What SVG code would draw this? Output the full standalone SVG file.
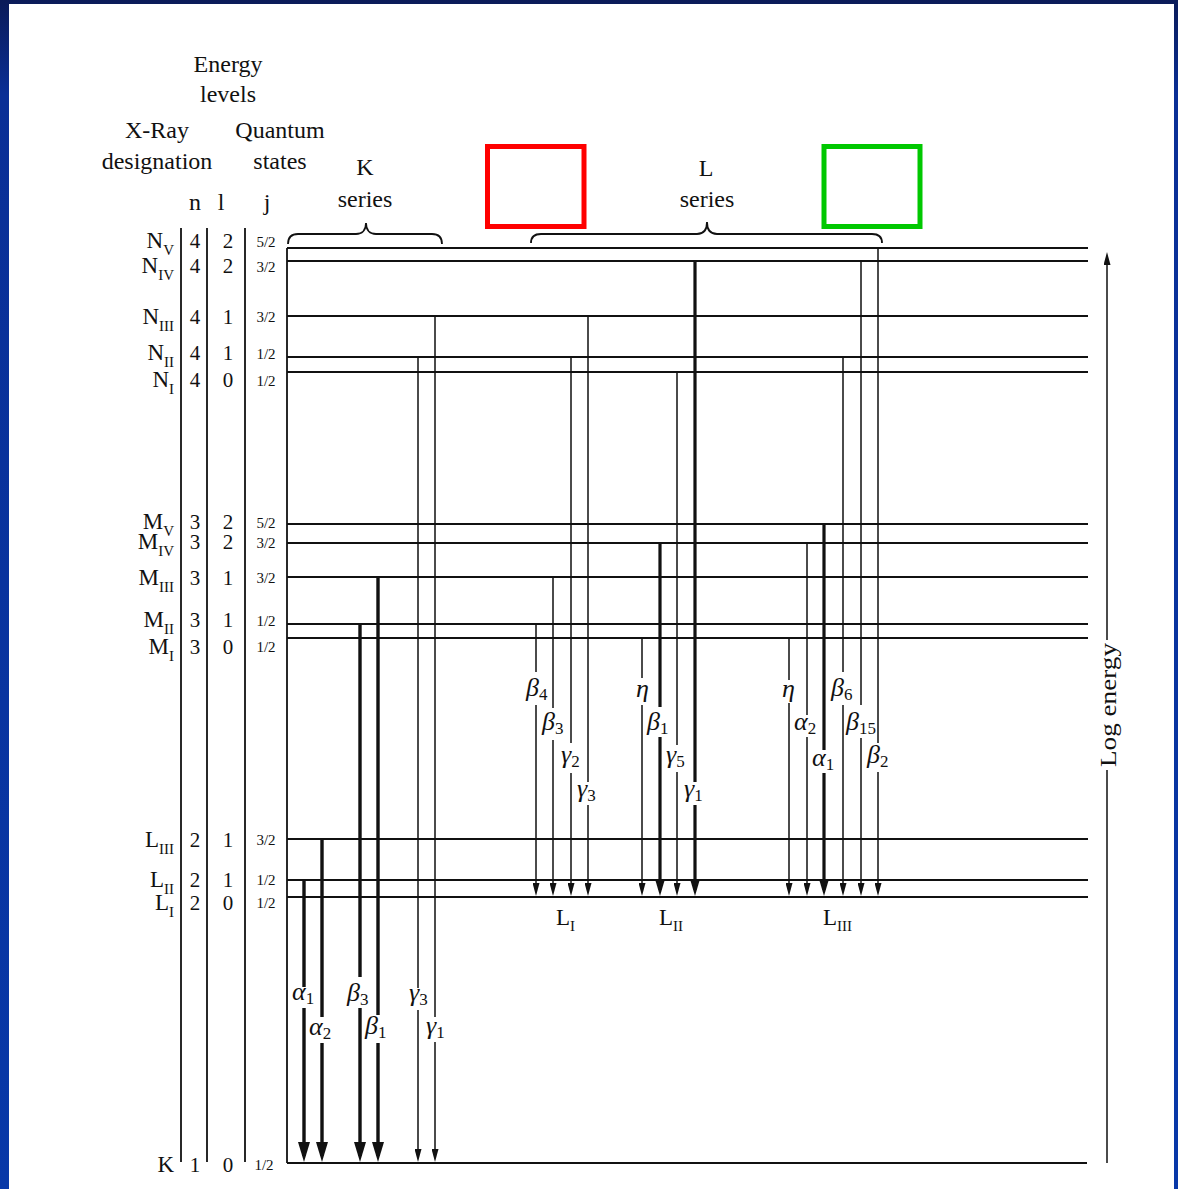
<svg xmlns="http://www.w3.org/2000/svg" width="1178" height="1189" viewBox="0 0 1178 1189">
<defs>
<linearGradient id="bg" x1="0" y1="0" x2="0" y2="1">
<stop offset="0" stop-color="#0b1b58"/>
<stop offset="0.08" stop-color="#0a2f96"/>
<stop offset="1" stop-color="#0838a8"/>
</linearGradient>
<marker id="ahK" viewBox="0 0 20 12" markerWidth="20" markerHeight="12" refX="14" refY="6" orient="auto" markerUnits="userSpaceOnUse"><path d="M0,0 L20,6 L0,12 z" fill="#111"/></marker>
<marker id="ahL" viewBox="0 0 17 10" markerWidth="17" markerHeight="10" refX="11" refY="5" orient="auto" markerUnits="userSpaceOnUse"><path d="M0,0 L17,5 L0,10 z" fill="#111"/></marker>
<marker id="ah" viewBox="0 0 13 7" markerWidth="13" markerHeight="7" refX="9" refY="3.5" orient="auto" markerUnits="userSpaceOnUse"><path d="M0,0 L13,3.5 L0,7 z" fill="#111"/></marker>
<style>
text { font-family: "Liberation Serif", "DejaVu Serif", serif; fill: #111; }
.hd { font-size: 24px; text-anchor: middle; }
.lv { font-size: 23px; text-anchor: end; }
.lv tspan { font-size: 15px; }
.num { font-size: 21px; text-anchor: middle; }
.j { font-size: 15px; text-anchor: middle; }
.gk { font-size: 26px; font-style: italic; }
.gk tspan { font-size: 17px; font-style: normal; }
.lvl { stroke: #111; stroke-width: 2; fill: none; }
.sep { stroke: #111; stroke-width: 1.8; fill: none; }
.thin { stroke: #111; stroke-width: 1.5; fill: none; marker-end: url(#ah); }
.thickK { stroke: #111; stroke-width: 3.4; fill: none; marker-end: url(#ahK); }
.thickL { stroke: #111; stroke-width: 3.2; fill: none; marker-end: url(#ahL); }
.brace { stroke: #111; stroke-width: 1.8; fill: none; }
</style>
</defs>

<rect x="0" y="0" width="1178" height="1189" fill="url(#bg)"/>
<rect x="9" y="4" width="1165" height="1185" fill="#ffffff"/>

<g id="headers">
<text class="hd" x="228" y="72">Energy</text>
<text class="hd" x="228" y="102">levels</text>
<text class="hd" x="157" y="138">X-Ray</text>
<text class="hd" x="157" y="169">designation</text>
<text class="hd" x="280" y="138">Quantum</text>
<text class="hd" x="280" y="169">states</text>
<text class="hd" x="195" y="210">n</text>
<text class="hd" x="221" y="210">l</text>
<text class="hd" x="267" y="210">j</text>
<text class="hd" x="365" y="175">K</text>
<text class="hd" x="365" y="207">series</text>
<text class="hd" x="706" y="176">L</text>
<text class="hd" x="707" y="207">series</text>
</g>

<g id="columns">
<line class="sep" x1="181" y1="228" x2="181" y2="1162"/>
<line class="sep" x1="207" y1="228" x2="207" y2="1162"/>
<line class="sep" x1="245" y1="228" x2="245" y2="1162"/>
<line class="sep" x1="287" y1="248" x2="287" y2="1163" stroke-width="1.5"/>
</g>

<g id="level-NV"><line class="lvl" x1="287" y1="248" x2="1088" y2="248"/><text class="lv" x="174" y="248">N<tspan dy="7">V</tspan></text><text class="num" x="195" y="248">4</text><text class="num" x="228" y="248">2</text><text class="j" x="266" y="247">5/2</text></g>
<g id="level-NIV"><line class="lvl" x1="287" y1="261" x2="1088" y2="261"/><text class="lv" x="174" y="273">N<tspan dy="7">IV</tspan></text><text class="num" x="195" y="273">4</text><text class="num" x="228" y="273">2</text><text class="j" x="266" y="272">3/2</text></g>
<g id="level-NIII"><line class="lvl" x1="287" y1="316" x2="1088" y2="316"/><text class="lv" x="174" y="324">N<tspan dy="7">III</tspan></text><text class="num" x="195" y="324">4</text><text class="num" x="228" y="324">1</text><text class="j" x="266" y="322">3/2</text></g>
<g id="level-NII"><line class="lvl" x1="287" y1="357" x2="1088" y2="357"/><text class="lv" x="174" y="360">N<tspan dy="7">II</tspan></text><text class="num" x="195" y="360">4</text><text class="num" x="228" y="360">1</text><text class="j" x="266" y="359">1/2</text></g>
<g id="level-NI"><line class="lvl" x1="287" y1="372" x2="1088" y2="372"/><text class="lv" x="174" y="387">N<tspan dy="7">I</tspan></text><text class="num" x="195" y="387">4</text><text class="num" x="228" y="387">0</text><text class="j" x="266" y="386">1/2</text></g>
<g id="level-MV"><line class="lvl" x1="287" y1="524" x2="1088" y2="524"/><text class="lv" x="174" y="529">M<tspan dy="7">V</tspan></text><text class="num" x="195" y="529">3</text><text class="num" x="228" y="529">2</text><text class="j" x="266" y="528">5/2</text></g>
<g id="level-MIV"><line class="lvl" x1="287" y1="543" x2="1088" y2="543"/><text class="lv" x="174" y="549">M<tspan dy="7">IV</tspan></text><text class="num" x="195" y="549">3</text><text class="num" x="228" y="549">2</text><text class="j" x="266" y="548">3/2</text></g>
<g id="level-MIII"><line class="lvl" x1="287" y1="577" x2="1088" y2="577"/><text class="lv" x="174" y="585">M<tspan dy="7">III</tspan></text><text class="num" x="195" y="585">3</text><text class="num" x="228" y="585">1</text><text class="j" x="266" y="583">3/2</text></g>
<g id="level-MII"><line class="lvl" x1="287" y1="624" x2="1088" y2="624"/><text class="lv" x="174" y="627">M<tspan dy="7">II</tspan></text><text class="num" x="195" y="627">3</text><text class="num" x="228" y="627">1</text><text class="j" x="266" y="626">1/2</text></g>
<g id="level-MI"><line class="lvl" x1="287" y1="638" x2="1088" y2="638"/><text class="lv" x="174" y="654">M<tspan dy="7">I</tspan></text><text class="num" x="195" y="654">3</text><text class="num" x="228" y="654">0</text><text class="j" x="266" y="652">1/2</text></g>
<g id="level-LIII"><line class="lvl" x1="287" y1="839" x2="1088" y2="839"/><text class="lv" x="174" y="847">L<tspan dy="7">III</tspan></text><text class="num" x="195" y="847">2</text><text class="num" x="228" y="847">1</text><text class="j" x="266" y="845">3/2</text></g>
<g id="level-LII"><line class="lvl" x1="287" y1="880" x2="1088" y2="880"/><text class="lv" x="174" y="887">L<tspan dy="7">II</tspan></text><text class="num" x="195" y="887">2</text><text class="num" x="228" y="887">1</text><text class="j" x="266" y="885">1/2</text></g>
<g id="level-LI"><line class="lvl" x1="287" y1="897" x2="1088" y2="897"/><text class="lv" x="174" y="910">L<tspan dy="7">I</tspan></text><text class="num" x="195" y="910">2</text><text class="num" x="228" y="910">0</text><text class="j" x="266" y="908">1/2</text></g>
<g id="level-K"><line class="lvl" x1="287" y1="1163" x2="1087" y2="1163"/><text class="lv" x="174" y="1172">K</text><text class="num" x="195" y="1172">1</text><text class="num" x="228" y="1172">0</text><text class="j" x="264" y="1170">1/2</text></g>

<g id="connectors">
<path class="thickK" d="M304,880 V987 M304,1008 V1156"/>
<path class="thickK" d="M322,839 V1017 M322,1043 V1156"/>
<path class="thickK" d="M360,624 V977 M360,1008 V1156"/>
<path class="thickK" d="M378,577 V1015 M378,1043 V1156"/>
<path class="thin" d="M418,357 V988 M418,1010 V1158"/>
<path class="thin" d="M435,316 V1017 M435,1042 V1158"/>

<path class="thin" d="M536,624 V672 M536,705 V892"/>
<path class="thin" d="M553,577 V708 M553,740 V892"/>
<path class="thin" d="M571,357 V743 M571,773 V892"/>
<path class="thin" d="M588,316 V782 M588,805 V892"/>
<path class="thin" d="M642,638 V678 M642,705 V892" stroke-width="1.8"/>
<path class="thickL" d="M660,543 V707 M660,737 V890"/>
<path class="thin" d="M677,372 V745 M677,772 V892"/>
<path class="thickL" d="M695,261 V782 M695,805 V890"/>
<path class="thin" d="M789,638 V680 M789,703 V892" stroke-width="1.8"/>
<path class="thin" d="M807,543 V715 M807,737 V892"/>
<path class="thickL" d="M824,524 V750 M824,773 V890"/>
<path class="thin" d="M843,357 V672 M843,705 V892"/>
<path class="thin" d="M861,261 V705 M861,738 V892"/>
<path class="thin" d="M878,248 V743 M878,772 V892"/>
</g>

<g id="line-labels">
<text class="gk" x="292" y="1000">α<tspan dy="4">1</tspan></text>
<text class="gk" x="309" y="1035">α<tspan dy="4">2</tspan></text>
<text class="gk" x="347" y="1001">β<tspan dy="4">3</tspan></text>
<text class="gk" x="365" y="1034">β<tspan dy="4">1</tspan></text>
<text class="gk" x="409" y="1001">γ<tspan dy="4">3</tspan></text>
<text class="gk" x="426" y="1034">γ<tspan dy="4">1</tspan></text>

<text class="gk" x="526" y="696">β<tspan dy="4">4</tspan></text>
<text class="gk" x="542" y="730">β<tspan dy="4">3</tspan></text>
<text class="gk" x="561" y="763">γ<tspan dy="4">2</tspan></text>
<text class="gk" x="577" y="797">γ<tspan dy="4">3</tspan></text>
<text class="gk" x="636" y="697">η</text>
<text class="gk" x="647" y="730">β<tspan dy="4">1</tspan></text>
<text class="gk" x="666" y="763">γ<tspan dy="4">5</tspan></text>
<text class="gk" x="684" y="797">γ<tspan dy="4">1</tspan></text>
<text class="gk" x="782" y="697">η</text>
<text class="gk" x="794" y="730">α<tspan dy="4">2</tspan></text>
<text class="gk" x="812" y="766">α<tspan dy="4">1</tspan></text>
<text class="gk" x="831" y="696">β<tspan dy="4">6</tspan></text>
<text class="gk" x="846" y="730">β<tspan dy="4">15</tspan></text>
<text class="gk" x="867" y="763">β<tspan dy="4">2</tspan></text>

<text class="lv" x="575" y="925">L<tspan dy="6">I</tspan></text>
<text class="lv" x="683" y="925">L<tspan dy="6">II</tspan></text>
<text class="lv" x="852" y="925">L<tspan dy="6">III</tspan></text>
</g>

<g id="braces">
<path class="brace" d="M288,244 C288,237 291,234 298,234 H356 C362,234 366,230 366,223 C366,230 370,234 376,234 H432 C439,234 442,237 442,244"/>
<path class="brace" d="M531,243 C531,237 534,234 541,234 H697 C703,234 707,230 707,222 C707,230 711,234 717,234 H872 C879,234 882,237 882,243"/>
</g>

<g id="log-energy-axis">
<path class="thin" d="M1107,1163 V770 M1107,640 V256"/>
<text class="hd" font-size="25" transform="translate(1116,705) rotate(-90)" textLength="124" lengthAdjust="spacingAndGlyphs">Log energy</text>
</g>

<g id="highlights">
<rect x="487.5" y="146.5" width="96.5" height="80" fill="none" stroke="#ff0000" stroke-width="5"/>
<rect x="824" y="146.5" width="96" height="80" fill="none" stroke="#00c800" stroke-width="5"/>
</g>
</svg>
